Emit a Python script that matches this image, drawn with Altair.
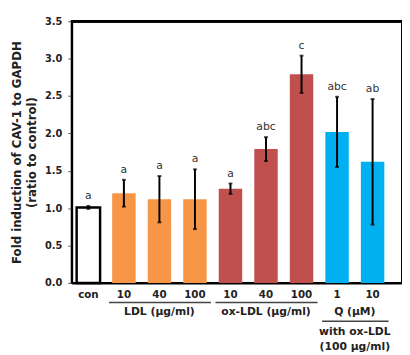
import altair as alt
import pandas as pd

tick_labels = ["con", "10", "40", "100", "10", "40", "100", "1", "10"]
groups = ["con", "LDL", "LDL", "LDL", "ox", "ox", "ox", "Q", "Q"]
means = [1.01, 1.20, 1.12, 1.12, 1.26, 1.79, 2.79, 2.02, 1.62]
errs = [0.02, 0.18, 0.31, 0.40, 0.07, 0.16, 0.25, 0.47, 0.84]
letters = ["a", "a", "a", "a", "a", "abc", "c", "abc", "ab"]
fills = ["#FFFFFF", "#F79646", "#F79646", "#F79646", "#C0504D", "#C0504D", "#C0504D", "#00B0F0", "#00B0F0"]

group_names = ["LDL (μg/ml)", "ox-LDL (μg/ml)", "Q (μM)"]
group_start = [1, 4, 7]
group_end = [3, 6, 8]
note_text = "with ox-LDL\n(100 μg/ml)"
y_ticks = [0, 0.5, 1, 1.5, 2, 2.5, 3, 3.5]

W, H = 337, 267
FONT = "DejaVu Sans"
XDOM = [-0.469, 8.828]
YDOM = [0, 3.5]

df = pd.DataFrame({
    "i": list(range(len(means))), "label": tick_labels, "group": groups,
    "mean": means, "err": errs, "letter": letters, "fill": fills,
})
df["lo"] = df["mean"] - df["err"]
df["hi"] = df["mean"] + df["err"]
df["x0"] = df["i"] - 0.33
df["x1"] = df["i"] + 0.33
df["zero"] = 0.0
df["xa"] = XDOM[0]
df["xb"] = XDOM[1]
df["top"] = YDOM[1]

gdf = pd.DataFrame({"name": group_names, "s": group_start, "e": group_end})
gdf["mid"] = (gdf["s"] + gdf["e"]) / 2
gdf["l0"] = gdf["s"] - 0.42
gdf["l1"] = gdf["e"] + 0.45
gdf["note"] = ["", "", note_text]

xs = alt.Scale(domain=XDOM, nice=False, zero=False)
ys = alt.Scale(domain=YDOM, nice=False)

XA = alt.Axis(domain=True, domainColor="black", domainWidth=2, ticks=False, labels=False,
              grid=False, title=None)
YA = alt.Axis(
    values=y_ticks, format=".1f", grid=False,
    domainColor="black", domainWidth=2, tickColor="#555", tickSize=4, tickWidth=1,
    labelFont=FONT, labelFontWeight="bold", labelFontSize=10, labelColor="#222", labelPadding=6,
    labelOverlap=False,
    title=["Fold induction of CAV-1 to GAPDH", "(ratio to control)"],
    titleFont=FONT, titleFontWeight="bold", titleFontSize=12, titleColor="#222",
    titlePadding=6, titleLineHeight=16)


def X(f):
    return alt.X(f, scale=xs, axis=XA)


def Y(f):
    return alt.Y(f, scale=ys, axis=YA)


base = alt.Chart(df)

top_line = base.mark_rule(color="black", strokeWidth=2).encode(
    x=X("xa:Q"), x2="xb:Q", y=Y("top:Q"))

bars = base.mark_bar(stroke="black").encode(
    x=X("x0:Q"), x2="x1:Q", y=Y("mean:Q"), y2="zero:Q",
    fill=alt.Fill("fill:N", scale=None),
    strokeWidth=alt.condition(alt.datum.group == "con", alt.value(2.5), alt.value(0)),
)

ebar = base.mark_rule(color="black", strokeWidth=2).encode(x=X("i:Q"), y=Y("lo:Q"), y2="hi:Q")
cap_lo = base.mark_tick(color="black", thickness=2, size=4, orient="horizontal").encode(
    x=X("i:Q"), y=Y("lo:Q"))
cap_hi = base.mark_tick(color="black", thickness=2, size=4, orient="horizontal").encode(
    x=X("i:Q"), y=Y("hi:Q"))

let_txt = base.mark_text(font=FONT, fontSize=11, color="#333", baseline="bottom", dy=-5).encode(
    x=X("i:Q"), y=Y("hi:Q"), text="letter:N")

tick_txt = base.mark_text(font=FONT, fontSize=10.5, fontWeight="bold", color="#222",
                          baseline="middle").encode(
    x=X("i:Q"), y=alt.value(H + 12), text="label:N")

gbase = alt.Chart(gdf)
ldl_lines = gbase.transform_filter(alt.datum.s < 7).mark_rule(
    color="#444", strokeWidth=1.5).encode(x=X("l0:Q"), x2="l1:Q", y=alt.value(H + 20))
q_line = gbase.transform_filter(alt.datum.s >= 7).mark_rule(
    color="#444", strokeWidth=1.5).encode(x=X("l0:Q"), x2="l1:Q", y=alt.value(H + 39))
g_txt = gbase.mark_text(font=FONT, fontSize=11, fontWeight="bold", color="#222",
                        baseline="middle").encode(
    x=X("mid:Q"), y=alt.value(H + 30), text="name:N")
note = gbase.transform_filter(alt.datum.s >= 7).mark_text(
    font=FONT, fontSize=11, fontWeight="bold", color="#222", baseline="top",
    lineBreak="\n", lineHeight=15).encode(
    x=X("mid:Q"), y=alt.value(H + 44), text="note:N")

chart = alt.layer(top_line, bars, ebar, cap_lo, cap_hi, let_txt, tick_txt, ldl_lines, q_line,
                  g_txt, note).properties(
    width=W, height=H,
    autosize=alt.AutoSizeParams(type="none"),
    padding={"left": 65, "top": 10, "right": 0, "bottom": 70},
).configure_view(stroke="black", strokeWidth=2)

chart.save("out.html", embed_options={"renderer": "svg", "actions": False})
